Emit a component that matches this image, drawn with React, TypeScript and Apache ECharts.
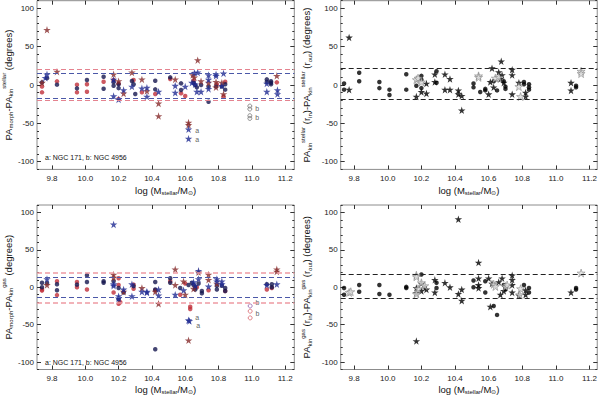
import React, { useEffect, useRef } from "react";
import * as echarts from "echarts";

const FONT = "'Liberation Sans', Arial, Helvetica, sans-serif";
const STAR =
  "path://M0,-1L0.2245,-0.309L0.951,-0.309L0.363,0.118L0.588,0.809L0,0.382L-0.588,0.809L-0.363,0.118L-0.951,-0.309L-0.2245,-0.309Z";

// tick labels
const X_TICKS = [9.8, 10.0, 10.2, 10.4, 10.6, 10.8, 11.0, 11.2];
const Y_TICKS = [-100, -50, 0, 50, 100];

// ---------- top-left: PA_morph - PA_kin^stellar ----------
const tlRedDots = [
  [9.74, -2], [9.74, -9.5], [9.83, 4.8], [9.95, 0.5], [9.95, -9.5], [10.01, 1], [10.01, -8.7],
  [10.11, 4.3], [10.17, 6.5], [10.2, -18], [10.2, 2], [10.29, 6.5], [10.34, -9.5], [10.42, -11.7],
  [10.51, 7.8], [10.575, -10.8], [10.6, -14.3], [10.65, 6], [10.79, 1], [10.83, -15], [10.84, 4.3],
  [11.15, 3.5],
];
const tlRedStars = [
  [9.77, 72], [9.74, 3], [9.83, 17.5], [10.17, 14], [10.2, 5], [10.23, -11], [10.28, 16.5],
  [10.34, 7.4], [10.37, -7.8], [10.44, -24], [10.44, -40.5], [10.54, 7.4], [10.62, -49], [10.62, -52],
  [10.645, 13], [10.655, 10], [10.675, 32.5], [10.695, 5], [10.74, 3], [10.785, 4], [10.785, -3],
  [10.82, 3], [10.83, -11.7], [11.15, 12],
];
const tlBlueDots = [
  [9.74, 3.5], [9.77, 9], [9.83, 0.5], [9.95, -4.3], [10.01, 6.5], [10.11, 10.8], [10.11, -4.8],
  [10.17, 4], [10.17, -1], [10.2, 1], [10.2, -4], [10.28, 5.2], [10.29, 1], [10.3, -11.7], [10.42, 5.6],
  [10.42, -5.6], [10.51, 10], [10.575, 2.2], [10.575, -6.5], [10.65, 3], [10.66, 0], [10.67, -3],
  [10.695, 0], [10.74, -2], [10.74, -21.7], [10.785, -2], [10.82, -2], [10.84, 1], [10.84, -6],
  [11.09, 7.4], [11.09, 4], [11.115, 5], [11.115, 3], [11.115, 1],
];
const tlBlueStars = [
  [9.77, 14], [9.76, 9.5], [10.17, -14.3], [10.17, 7], [10.2, -18.7], [10.23, -6.5], [10.28, -2],
  [10.34, -4.3], [10.37, -3.5], [10.37, -15], [10.44, -8.7], [10.54, -0.9], [10.54, -10], [10.6, -2],
  [10.62, -57.8], [10.62, -70], [10.655, 16], [10.64, 3], [10.66, 1], [10.67, -8.7], [10.675, 16.5],
  [10.695, -8.7], [10.74, 13], [10.74, 7], [10.74, -5], [10.785, 14], [10.785, 12], [10.83, 15.2],
  [10.82, -1], [11.09, -8.7], [11.09, 2], [11.154, -6.5], [11.154, -11.7],
];
const tlOpen = [[10.988, -27.4], [10.988, -31.3], [10.988, -40], [10.988, -43.5]];
const tlRedLimits = [20.4, -20.4];
const tlBlueLimits = [16, -17.4];

// ---------- top-right: PA_kin^stellar(r_in) - PA_kin^stellar(r_out) ----------
const trDots = [
  [9.74, 2], [9.74, -6], [9.83, 16], [9.83, 5], [9.95, 4], [9.95, -4], [10.01, -6], [10.01, -13],
  [10.11, 14], [10.11, -6], [10.17, -1], [10.2, 12], [10.2, 7], [10.2, -4], [10.29, 18], [10.29, 3],
  [10.51, 2], [10.51, -3], [10.55, -9], [10.58, -7], [10.58, -5], [10.63, 5], [10.65, -7],
  [10.69, 5], [10.7, -5], [10.7, -2], [10.81, 4], [10.81, 1], [10.84, 1], [10.84, -3], [10.84, -6],
  [11.12, -1], [11.12, -3],
];
const trStars = [
  [9.77, 62], [9.77, -6], [10.17, -15], [10.2, -9], [10.23, 2], [10.23, -11], [10.28, 14], [10.28, 4],
  [10.34, 14], [10.34, -6], [10.37, 8], [10.37, -6], [10.42, -7], [10.42, -12], [10.44, -14],
  [10.44, -33], [10.6, -12], [10.61, 4], [10.62, 22], [10.63, -3], [10.66, 17], [10.67, 8],
  [10.675, 31], [10.68, 13], [10.69, 3], [10.74, 20], [10.74, 13], [10.74, -12], [10.78, 3],
  [10.82, -10], [10.82, -15], [11.09, 3], [11.09, -7],
];
const trGrayStars = [
  [10.17, 7], [10.18, 9], [10.2, 4], [10.54, 12], [10.54, 10], [10.64, 9], [10.66, 10],
  [10.79, -15], [10.78, -2], [11.15, 18], [11.15, 15],
];
const trLimits = [21.7, -18.3];

// ---------- bottom-left: PA_morph - PA_kin^gas ----------
const blRedDots = [
  [9.74, -3], [9.74, -4.5], [9.83, 8], [9.83, -10.5], [9.95, 7], [9.95, 0], [10.01, -3], [10.17, -7],
  [10.2, 12], [10.2, 3], [10.2, -22], [10.21, -20], [10.29, -2], [10.29, 3.5], [10.42, -4],
  [10.51, 8], [10.57, -10], [10.6, 5], [10.63, -26], [10.63, -29], [10.67, 0], [10.74, -4],
  [10.84, -5], [11.09, -3], [11.12, -1],
];
const blRedStars = [
  [9.77, 3], [10.17, 17], [10.17, 13], [10.23, -6], [10.34, -1], [10.42, -6], [10.44, -22],
  [10.54, 24], [10.54, 3], [10.59, 8], [10.6, -10], [10.62, -71], [10.65, -2], [10.68, 20],
  [10.74, 17], [10.74, 10], [10.79, 5], [11.15, 24], [11.15, 21],
];
const blBlueDots = [
  [9.74, 6], [9.74, 0], [9.77, 5.5], [9.83, 4], [9.83, -4], [9.95, 3.5], [10.01, 16], [10.01, 7],
  [10.11, 8], [10.11, 6], [10.17, 8], [10.2, -1], [10.2, -16], [10.23, -7], [10.29, 1.5], [10.42, 7],
  [10.42, -3], [10.42, -83], [10.51, 12], [10.51, 6], [10.57, -1], [10.62, 3], [10.64, 6], [10.65, 3],
  [10.66, 0], [10.66, -3], [10.68, 5], [10.7, -5], [10.7, -8], [10.79, 2], [10.79, -3], [10.82, 2],
  [10.84, -1], [10.84, -5], [11.09, 4], [11.12, 4], [11.12, 0],
];
const blBlueStars = [
  [9.77, 11], [10.17, 84], [10.17, 4], [10.17, 2], [10.2, -12], [10.2, -15], [10.23, -3], [10.28, 4],
  [10.28, -12], [10.34, -6], [10.37, -6], [10.37, -7], [10.44, -3], [10.44, -11], [10.54, -10],
  [10.59, -4], [10.62, -44], [10.625, -45], [10.65, 7], [10.66, 2], [10.68, 22], [10.68, 11],
  [10.74, 1], [10.79, 11], [10.79, 8], [10.82, 8], [10.82, 4], [11.09, 3], [11.15, 4],
];
const blOpenPurple = [[10.99, -25]];
const blOpenRed = [[10.99, -32], [10.99, -41]];
const blRedLimits = [20, -20.4];
const blBlueLimits = [13.4, -14];

// ---------- bottom-right: PA_kin^gas(r_in) - PA_kin^gas(r_out) ----------
const brDots = [
  [9.74, -1], [9.74, -10], [9.83, 3], [9.83, -6], [9.95, 3], [9.95, -9], [10.01, -10], [10.11, -1],
  [10.11, 0.5], [10.2, 17], [10.22, 0], [10.29, 6], [10.29, -1], [10.51, 9], [10.51, 0], [10.58, 8],
  [10.58, -7], [10.63, -25], [10.65, -37], [10.69, 3], [10.7, 0], [10.7, -3], [10.81, 3],
  [10.84, -1], [10.84, -7], [11.12, -1], [11.12, -3],
];
const brStars = [
  [10.17, -1], [10.17, -8], [10.17, -72], [10.2, 5], [10.2, -5], [10.23, -3], [10.28, 10],
  [10.28, -7], [10.34, 6], [10.37, 0], [10.42, 91], [10.42, -9], [10.44, -3], [10.44, -18],
  [10.54, 33], [10.54, 12], [10.54, 3], [10.54, -1], [10.6, 12], [10.61, -26], [10.62, 5],
  [10.66, 7], [10.67, -10], [10.68, 12], [10.69, -5], [10.74, 16], [10.74, 10], [10.74, 3],
  [10.74, -7], [10.78, -11], [10.82, -4], [10.82, -10], [11.09, -7],
];
const brGrayStars = [
  [9.77, -7], [9.78, -6], [10.17, 16], [10.17, 14], [10.18, -2], [10.17, -9], [10.2, 6], [10.22, 2],
  [10.63, 4], [10.64, 1], [10.7, 1], [10.71, 3], [10.79, -2], [10.785, -10], [11.15, 19],
];
const brLimits = [17.3, -15.2];

const NOTE = "a: NGC 171, b: NGC 4956";

const RED_DOT = "#c0303a";
const RED_STAR = "#862a2a";
const BLUE_DOT = "#15164f";
const BLUE_STAR = "#1f2b92";
const PINK_LINE = "#e5838f";
const BLUE_LINE = "#4b58a8";

const rich = {
  m: { fontSize: 9.5, fontFamily: FONT, color: "#111", verticalAlign: "middle" },
  sb: { fontSize: 6, fontFamily: FONT, color: "#111", padding: [6, 0, 0, 0], verticalAlign: "middle" },
  sp: { fontSize: 6, fontFamily: FONT, color: "#111", padding: [0, 0, 8, 0], verticalAlign: "middle" },
};

const X_NAME = "{m|log (M}{sb|stellar}{m|/M}{sb|\u2299}{m|)}";

function App() {
  const ref = useRef<HTMLDivElement>(null);
  useEffect(() => {
    if (!ref.current) return;
    const chart = echarts.init(ref.current, undefined, { renderer: "svg" });

    const grids = [
      { left: 34.3, top: 0.7, width: 260, height: 168.7 },
      { left: 340.7, top: 0.7, width: 258.3, height: 168.7 },
      { left: 34.3, top: 205, width: 260, height: 168.7 },
      { left: 340.7, top: 205, width: 258.3, height: 168.7 },
    ];
    const xr = [
      [9.71, 11.255],
      [9.72, 11.246],
      [9.71, 11.255],
      [9.72, 11.246],
    ];
    const yNames = [
      "{m|PA}{sb|morph}{m|-PA}{sb|kin}{sp|stellar}{m| (degrees)}",
      "{m|PA}{sb|kin}{sp|stellar}{m| (r}{sb|in}{m|)-PA}{sb|kin}{sp|stellar}{m| (r}{sb|out}{m|) (degrees)}",
      "{m|PA}{sb|morph}{m|-PA}{sb|kin}{sp|gas}{m| (degrees)}",
      "{m|PA}{sb|kin}{sp|gas}{m| (r}{sb|in}{m|)-PA}{sb|kin}{sp|gas}{m| (r}{sb|out}{m|) (degrees)}",
    ];
    const yGaps = [22, 27, 22, 27];
    const xGaps = [15, 15, 13.5, 13.5];

    const xAxis: any[] = [];
    const yAxis: any[] = [];
    const tickStyle = { color: "#333", width: 1 };
    const noLine = { show: false, onZero: false };
    grids.forEach((g, gi) => {
      xAxis.push({
        type: "value",
        gridIndex: gi,
        min: xr[gi][0],
        max: xr[gi][1],
        position: "bottom",
        axisLine: noLine,
        splitLine: { show: false },
        axisTick: { inside: true, length: 4, customValues: X_TICKS, lineStyle: tickStyle },
        axisLabel: {
          customValues: X_TICKS,
          formatter: (v: number) => v.toFixed(1),
          fontSize: 8,
          fontFamily: FONT,
          color: "#222",
          margin: 5,
        },
        name: X_NAME,
        nameLocation: "middle",
        nameGap: xGaps[gi],
        nameTextStyle: { rich },
      });
      xAxis.push({
        type: "value",
        gridIndex: gi,
        min: xr[gi][0],
        max: xr[gi][1],
        position: "top",
        axisLine: noLine,
        splitLine: { show: false },
        axisTick: { inside: true, length: 4, customValues: X_TICKS, lineStyle: tickStyle },
        axisLabel: { show: false },
      });
      // left minor + labels
      yAxis.push({
        type: "value",
        gridIndex: gi,
        min: -110,
        max: 110,
        interval: 10,
        position: "left",
        axisLine: noLine,
        splitLine: { show: false },
        axisTick: { inside: true, length: 2, lineStyle: tickStyle },
        axisLabel: {
          formatter: (v: number) => {
            const r = Math.round(v);
            return r % 50 === 0 ? String(r) : "";
          },
          fontSize: 8,
          fontFamily: FONT,
          color: "#222",
          margin: 3,
        },
        name: yNames[gi],
        nameLocation: "middle",
        nameRotate: 90,
        nameGap: yGaps[gi],
        nameTextStyle: { rich },
      });
      // left major
      yAxis.push({
        type: "value",
        gridIndex: gi,
        min: -110,
        max: 110,
        position: "left",
        axisLine: noLine,
        splitLine: { show: false },
        axisTick: { inside: true, length: 4, customValues: Y_TICKS, lineStyle: tickStyle },
        axisLabel: { show: false },
      });
      yAxis.push({
        type: "value",
        gridIndex: gi,
        min: -110,
        max: 110,
        interval: 10,
        position: "right",
        axisLine: noLine,
        splitLine: { show: false },
        axisTick: { inside: true, length: 2, lineStyle: tickStyle },
        axisLabel: { show: false },
      });
      yAxis.push({
        type: "value",
        gridIndex: gi,
        min: -110,
        max: 110,
        position: "right",
        axisLine: noLine,
        splitLine: { show: false },
        axisTick: { inside: true, length: 4, customValues: Y_TICKS, lineStyle: tickStyle },
        axisLabel: { show: false },
      });
    });

    const limLines = (vals: number[], color: string, width = 1) => ({
      silent: true,
      symbol: "none",
      label: { show: false },
      lineStyle: { type: [5, 3], color, width },
      data: vals.map((v) => ({ yAxis: v })),
    });

    const sc = (gi: number, data: any[], kind: string, color: string, extra: any = {}) => {
      const base: any = {
        type: "scatter",
        xAxisIndex: gi * 2,
        yAxisIndex: gi * 4,
        data,
        silent: true,
      };
      if (kind === "dot") {
        base.symbol = "circle";
        base.symbolSize = 4.5;
        base.itemStyle = { color };
      } else if (kind === "star") {
        base.symbol = STAR;
        base.symbolSize = 7.5;
        base.itemStyle = { color };
      } else if (kind === "gstar") {
        base.symbol = STAR;
        base.symbolSize = 8;
        base.itemStyle = { color: "#dcdcdc", borderColor: "#808080", borderWidth: 0.7 };
      } else if (kind === "open") {
        base.symbol = "circle";
        base.symbolSize = 4;
        base.itemStyle = { color: "rgba(0,0,0,0)", borderColor: color, borderWidth: 0.8 };
      }
      return Object.assign(base, extra);
    };

    const lbl = (text: string, dy = 0) => ({
      show: true,
      formatter: text,
      position: "right",
      distance: 3,
      offset: [0, dy],
      fontSize: 7,
      fontFamily: FONT,
      color: "#333",
    });

    const withLabels = (data: number[][], labels: (null | [string, number])[]) =>
      data.map((d, i) => {
        const l = labels[i];
        return l ? { value: d, label: lbl(l[0], l[1]) } : { value: d };
      });

    const tlBlueStarsL = tlBlueStars.map((d) =>
      d[0] === 10.62 ? { value: d, label: lbl("a", 1) } : { value: d }
    );
    const blBlueStarsL = blBlueStars.map((d) =>
      d[0] === 10.62
        ? { value: d, label: lbl("a", -3) }
        : d[0] === 10.625
        ? { value: d, label: lbl("a", 5) }
        : { value: d }
    );

    const series: any[] = [
      // top-left
      sc(0, tlRedDots, "dot", RED_DOT, { markLine: limLines(tlRedLimits, PINK_LINE) }),
      sc(0, tlBlueDots, "dot", BLUE_DOT, { markLine: limLines(tlBlueLimits, BLUE_LINE) }),
      sc(0, tlRedStars, "star", RED_STAR),
      sc(0, tlBlueStarsL, "star", BLUE_STAR),
      sc(0, withLabels(tlOpen, [["b", 2], null, ["b", 2], null]), "open", "#555"),
      // top-right
      sc(1, trDots, "dot", "#000", { markLine: limLines(trLimits, "#222") }),
      sc(1, trStars, "star", "#000"),
      sc(1, trGrayStars, "gstar", "#888"),
      // bottom-left
      sc(2, blRedDots, "dot", RED_DOT, { markLine: limLines(blRedLimits, "#ee9aa3", 1.6) }),
      sc(2, blBlueDots, "dot", BLUE_DOT, { markLine: limLines(blBlueLimits, BLUE_LINE) }),
      sc(2, blRedStars, "star", RED_STAR),
      sc(2, blBlueStarsL, "star", BLUE_STAR),
      sc(2, withLabels(blOpenPurple, [["b", -3]]), "open", "#7a3f9a"),
      sc(2, withLabels(blOpenRed, [["b", 2], null]), "open", "#d0404a"),
      // bottom-right
      sc(3, brDots, "dot", "#000", { markLine: limLines(brLimits, "#222") }),
      sc(3, brStars, "star", "#000"),
      sc(3, brGrayStars, "gstar", "#888"),
    ];

    chart.setOption({
      animation: false,
      backgroundColor: "#fff",
      grid: grids.map((g) => ({ ...g, show: true, borderColor: "#8c8c8c", borderWidth: 1, backgroundColor: "transparent" })),
      xAxis,
      yAxis,
      series,
      graphic: [
        {
          type: "text",
          x: 45,
          y: 157,
          style: { text: NOTE, fontSize: 7, fontFamily: FONT, fill: "#111", verticalAlign: "middle" },
        },
        {
          type: "text",
          x: 45,
          y: 362.5,
          style: { text: NOTE, fontSize: 7, fontFamily: FONT, fill: "#111", verticalAlign: "middle" },
        },
      ],
    });
    return () => chart.dispose();
  }, []);
  return (
    <div
      ref={ref}
      style={{ position: "fixed", left: 0, top: 0, width: 600, height: 396, background: "#fff" }}
    />
  );
}

export default App;
